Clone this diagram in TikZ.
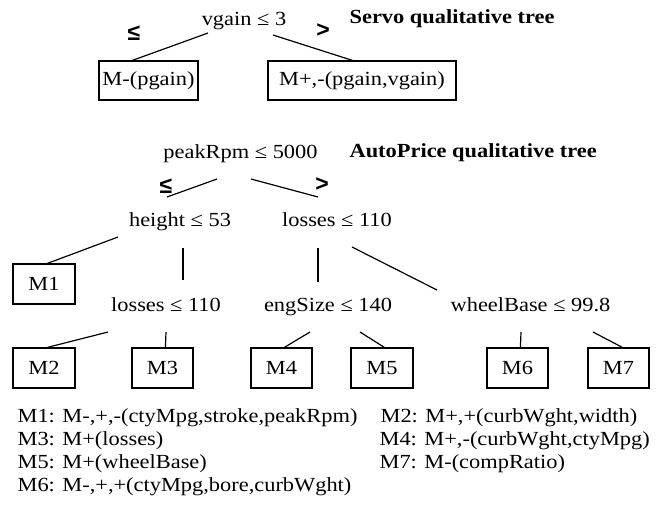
\documentclass[tikz,border=0pt]{standalone}
\usepackage{fontspec}
\setmainfont{Liberation Serif}
\newfontfamily\symfont{Liberation Sans}
\usepackage{graphicx}
\newcommand{\tx}[1]{\scalebox{1.12}[1]{#1}}
\begin{document}
\begin{tikzpicture}[x=1pt,y=-1pt, line width=1.2pt,
  lbl/.style={inner sep=0pt, anchor=base, font=\fontsize{20}{23}\selectfont},
  ttl/.style={inner sep=0pt, anchor=base west, font=\fontsize{20}{23}\selectfont\bfseries},
  sym/.style={inner sep=0pt, font=\fontsize{23}{26}\selectfont\symfont\bfseries},
  leaf/.style={draw, inner sep=0pt, font=\fontsize{20}{23}\selectfont},
  legend/.style={inner sep=0pt, anchor=base west, font=\fontsize{20}{23}\selectfont}]
\useasboundingbox (0,0) rectangle (660,512);

% ---------- Servo tree ----------
\node[lbl] (vg) at (244,25) {\tx{vgain ≤ 3}};
\node[ttl] (st) at (349,23) {\tx{Servo qualitative tree}};
\node[sym] (le1) at (134,33) {≤};
\node[sym] (gt1) at (323,31) {>};
\node[leaf, minimum width=99pt, minimum height=39pt] (mp) at (148.5,80.5) {\tx{M-(pgain)}};
\node[leaf, minimum width=188pt, minimum height=39pt] (mpv) at (362,80.5) {\tx{M+,-(pgain,vgain)}};
\coordinate (vgL) at (208,33);
\coordinate (vgR) at (273,35);
\draw (vgL) -- ([xshift=34pt]mp.north west);
\draw (vgR) -- ([xshift=85pt]mpv.north west);

% ---------- AutoPrice tree ----------
\node[lbl] (pr) at (240.5,158) {\tx{peakRpm ≤ 5000}};
\node[ttl] (ap) at (349,157) {\tx{AutoPrice qualitative tree}};
\node[sym] (le2) at (166,186) {≤};
\node[sym] (gt2) at (322,185) {>};
\coordinate (prL) at (217,179);
\coordinate (prR) at (251,179);
\coordinate (htT) at (167,197);
\coordinate (lsT) at (318,197);
\draw (prL) -- (htT);
\draw (prR) -- (lsT);
\node[lbl] (ht) at (180,226) {\tx{height ≤ 53}};
\node[lbl] (ls1) at (337,226) {\tx{losses ≤ 110}};

\node[leaf, minimum width=62pt, minimum height=40pt] (m1) at (44,284) {\tx{M1}};
\node[lbl] (ls2) at (166,311) {\tx{losses ≤ 110}};
\node[lbl] (es) at (328,311) {\tx{engSize ≤ 140}};
\node[lbl] (wb) at (530.5,311) {\tx{wheelBase ≤ 99.8}};

\coordinate (htL) at (118,237);
\coordinate (htB) at (183,248);
\coordinate (ls2T) at (183,280);
\coordinate (ls1B) at (318,248);
\coordinate (esT) at (318,282);
\coordinate (ls1R) at (352,247);
\coordinate (wbT) at (437,290);
\draw (htL) -- ([xshift=35pt]m1.north west);
\draw (htB) -- (ls2T);
\draw (ls1B) -- (esT);
\draw (ls1R) -- (wbT);

\node[leaf, minimum width=62pt, minimum height=40pt] (m2) at (44,368) {\tx{M2}};
\node[leaf, minimum width=61pt, minimum height=40pt] (m3) at (162.5,368) {\tx{M3}};
\node[leaf, minimum width=61pt, minimum height=40pt] (m4) at (281.5,368) {\tx{M4}};
\node[leaf, minimum width=62pt, minimum height=40pt] (m5) at (382,368) {\tx{M5}};
\node[leaf, minimum width=61pt, minimum height=40pt] (m6) at (517.5,368) {\tx{M6}};
\node[leaf, minimum width=61pt, minimum height=40pt] (m7) at (618.5,368) {\tx{M7}};

\coordinate (ls2L) at (108,332);
\coordinate (ls2R) at (166,332);
\coordinate (esL) at (310,332);
\coordinate (esR) at (360,332);
\coordinate (wbL) at (521,332);
\coordinate (wbR) at (593,332);
\draw (ls2L) -- ([xshift=35pt]m2.north west);
\draw (ls2R) -- ([xshift=34pt]m3.north west);
\draw (esL) -- ([xshift=34pt]m4.north west);
\draw (esR) -- ([xshift=34pt]m5.north west);
\draw (wbL) -- ([xshift=34pt]m6.north west);
\draw (wbR) -- ([xshift=35pt]m7.north west);

% ---------- legend ----------
\node[legend] (t1) at (17,422) {\tx{M1: M-,+,-(ctyMpg,stroke,peakRpm)}};
\node[legend] (t3) at (17,445) {\tx{M3: M+(losses)}};
\node[legend] (t5) at (17,468) {\tx{M5: M+(wheelBase)}};
\node[legend] (t6) at (17,491) {\tx{M6: M-,+,+(ctyMpg,bore,curbWght)}};
\node[legend] (t2) at (380,422) {\tx{M2: M+,+(curbWght,width)}};
\node[legend] (t4) at (379,445) {\tx{M4: M+,-(curbWght,ctyMpg)}};
\node[legend] (t7) at (379,468) {\tx{M7: M-(compRatio)}};
\end{tikzpicture}
\end{document}
